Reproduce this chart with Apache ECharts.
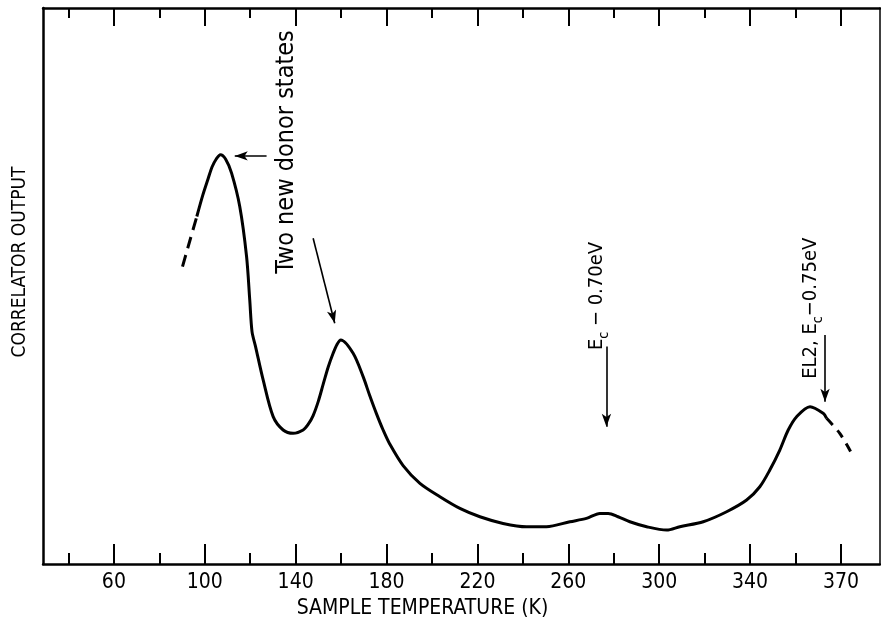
<!DOCTYPE html>
<html>
<head>
<meta charset="utf-8">
<script src="https://cdn.jsdelivr.net/npm/echarts@6.0.0/dist/echarts.min.js"></script>
<style>
html, body { margin: 0; padding: 0; background: #fff; }
#chart { width: 881px; height: 630px; }
</style>
</head>
<body>
<div id="chart"></div>
<script>
var FONT = "'Liberation Sans Narrow', 'DejaVu Sans Condensed', 'Liberation Sans', sans-serif";

// curve (temperature in K, correlator output in arbitrary units)
var solidTemp = [96.5, 99.1, 101.4, 103.2, 105.0, 106.9, 109.2, 111.8, 115.4, 118.4, 119.8, 120.8, 122.3,
	125.7, 130.1, 134.5, 138.9, 143.3, 145.5, 147.7, 150.0, 152.1, 154.3, 156.5, 158.2, 159.9, 165.3,
	169.7, 172.6, 175.6, 178.5, 181.4, 187.3, 194.7, 203.5, 212.3, 221.1, 231.3, 241.6, 250.4, 260.7,
	268.0, 273.9, 277.6, 281.9, 287.1, 294.5, 303.3, 309.1, 319.4, 329.7, 338.5, 344.3, 348.7, 353.1,
	356.8, 360.5, 366.4, 372.2, 373.7];
var solidValue = [62.5, 66.3, 69.2, 71.4, 72.8, 73.6, 72.8, 70.3, 64.3, 55.3, 47.5, 41.8, 39.2,
	33.1, 26.5, 24.1, 23.5, 24.1, 25.1, 26.7, 29.3, 32.3, 35.4, 37.9, 39.5, 40.3, 37.9,
	33.7, 30.3, 27.0, 24.1, 21.6, 17.7, 14.5, 12.1, 10.0, 8.5, 7.3, 6.7, 6.7, 7.6,
	8.2, 9.1, 9.1, 8.5, 7.6, 6.7, 6.1, 6.7, 7.6, 9.4, 11.5, 13.9, 16.9, 20.5,
	24.1, 26.5, 28.3, 27.1, 26.2];
var leftDashTemp = [90.2, 93.4, 96.5];
var leftDashValue = [53.5, 58.1, 62.5];
var rightDashTemp = [373.7, 379.5, 384.7];
var rightDashValue = [26.2, 23.5, 19.9];

// axis ticks (the printed "370" sits where 380 would fall)
var majorTicks = [60, 100, 140, 180, 220, 260, 300, 340, 380];
var tickLabels = ['60', '100', '140', '180', '220', '260', '300', '340', '370'];
var minorTicks = [40, 80, 120, 160, 200, 240, 280, 320, 360];
var xMin = 28.8, xMax = 397.2;

function pairs(xs, ys) {
	var out = [];
	for (var i = 0; i < xs.length; i++) out.push([xs[i], ys[i]]);
	return out;
}

function tickAxis(pos, values, len, showLine, showLabel) {
	return {
		type: 'value', position: pos, min: xMin, max: xMax,
		axisLine: { show: showLine, onZero: false, lineStyle: { color: '#000', width: 2.5 } },
		axisTick: { show: true, inside: true, length: len, customValues: values,
			lineStyle: { color: '#000', width: 2 } },
		axisLabel: showLabel ? {
			show: true, customValues: majorTicks, margin: 8,
			color: '#000', fontFamily: FONT, fontSize: 21,
			formatter: function (v) {
				var i = majorTicks.indexOf(v);
				return i >= 0 ? tickLabels[i] : '';
			}
		} : { show: false },
		splitLine: { show: false }
	};
}

var xAxes = [
	tickAxis('bottom', majorTicks, 20, true, true),
	tickAxis('bottom', minorTicks, 11, false, false),
	tickAxis('top', majorTicks, 18, true, false),
	tickAxis('top', minorTicks, 10, false, false)
];
xAxes[0].name = 'SAMPLE TEMPERATURE (K)';
xAxes[0].nameLocation = 'middle';
xAxes[0].nameGap = 34;
xAxes[0].nameTextStyle = { color: '#000', fontFamily: FONT, fontSize: 21, padding: [0, 78, 0, 0] };

var subStyle = { fontFamily: FONT, fontSize: 14, color: '#000', verticalAlign: 'bottom', padding: [0, 0, -4, 0] };

var noteLabel = function (text, size) {
	return {
		show: true, position: 'inside', rotate: 90,
		formatter: text,
		color: '#000', fontFamily: FONT, fontSize: size,
		rich: { m: { fontFamily: FONT, fontSize: size, color: '#000' }, s: subStyle }
	};
};

var arrowLine = { color: '#000', width: 1.6, type: 'solid' };

var chart = echarts.init(document.getElementById('chart'));

var option = {
	animation: false,
	backgroundColor: '#fff',
	grid: { left: 43, right: 1, top: 8, bottom: 66, containLabel: false, outerBoundsMode: 'none' },
	xAxis: xAxes,
	yAxis: [{
		type: 'value', min: 0, max: 100, position: 'left',
		name: 'CORRELATOR OUTPUT', nameLocation: 'middle', nameGap: 13, nameRotate: 90,
		nameTextStyle: { color: '#000', fontFamily: FONT, fontSize: 19, padding: [0, 0, 0, 48] },
		axisLine: { show: true, lineStyle: { color: '#000', width: 2.5 } },
		axisTick: { show: false }, axisLabel: { show: false }, splitLine: { show: false }
	}, {
		type: 'value', min: 0, max: 100, position: 'right',
		axisLine: { show: true, lineStyle: { color: '#000', width: 1.5 } },
		axisTick: { show: false }, axisLabel: { show: false }, splitLine: { show: false }
	}],
	series: [{
		name: 'curve', type: 'line', data: pairs(solidTemp, solidValue),
		smooth: 0.3, showSymbol: false, symbol: 'none',
		lineStyle: { color: '#000', width: 3 },
		markLine: {
			silent: true, symbol: ['none', 'arrow'], symbolSize: [7, 13],
			label: { show: false }, lineStyle: arrowLine,
			data: [
				[{ coord: [127.2, 73.4] }, { coord: [113.2, 73.4] }],
				[{ coord: [147.7, 58.6] }, { coord: [157.2, 43.3] }],
				[{ coord: [276.8, 39.1] }, { coord: [276.8, 24.7] }],
				[{ coord: [373.0, 41.2] }, { coord: [373.0, 29.2] }]
			]
		},
		markPoint: {
			silent: true, symbol: 'circle', symbolSize: 0,
			data: [
				{ coord: [136.1, 74.1], label: noteLabel('{m|Two new donor states}', 25) },
				{ coord: [272.6, 48.2], label: noteLabel('{m|E}{s|c}{m| \u2212 0.70eV}', 20) },
				{ coord: [366.9, 46.0], label: noteLabel('{m|EL2, E}{s|c}{m|\u22120.75eV}', 20) }
			]
		}
	}, {
		name: 'start', type: 'line', data: pairs(leftDashTemp, leftDashValue),
		smooth: 0.3, showSymbol: false, symbol: 'none',
		lineStyle: { color: '#000', width: 3, type: [12, 7] }
	}, {
		name: 'end', type: 'line', data: pairs(rightDashTemp, rightDashValue),
		smooth: 0.3, showSymbol: false, symbol: 'none',
		lineStyle: { color: '#000', width: 3, type: [9, 7] }
	}]
};

chart.setOption(option);
</script>
</body>
</html>
